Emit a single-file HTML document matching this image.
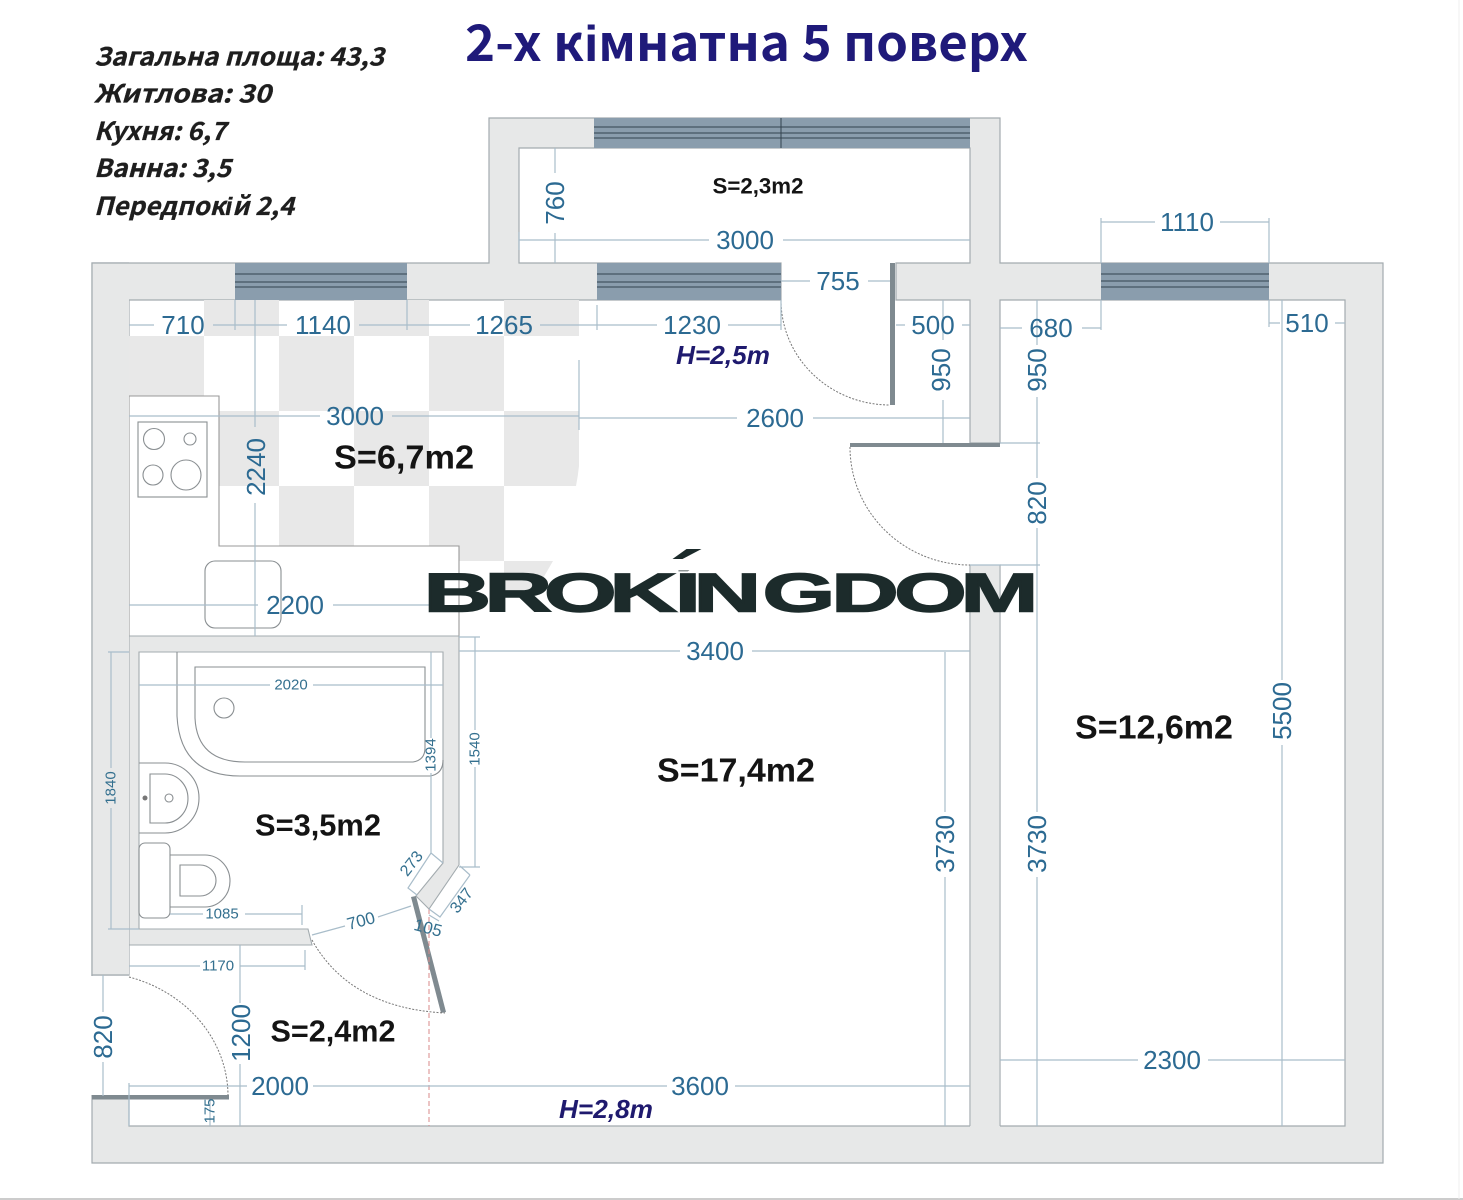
<!DOCTYPE html>
<html><head><meta charset="utf-8"><style>
html,body{margin:0;padding:0;background:#fff;width:1463px;height:1200px;overflow:hidden}
svg{display:block}
text{font-family:"Liberation Sans",sans-serif;dominant-baseline:central}
.d{fill:#2c6a92;font-size:26px;text-anchor:middle}
.s{fill:#34708f;font-size:15px;text-anchor:middle}
.a{fill:#141414;font-weight:bold;font-size:33px;text-anchor:middle}
.i{fill:#1e1e1e;stroke:#1e1e1e;stroke-width:.3;font-family:"Noto Sans CJK SC","Liberation Sans",sans-serif;font-weight:bold;font-style:italic;font-size:25px;dominant-baseline:auto}
.h{fill:#1f1a6e;font-weight:bold;font-style:italic;font-size:26px;text-anchor:middle}
.dim path{fill:none;stroke:#a9bdca;stroke-width:1.2}
.fx{fill:none;stroke:#8a8f92;stroke-width:1.1}
.arc{fill:none;stroke:#777;stroke-width:1;stroke-dasharray:2 1.5}
.win line{stroke:#33424e;stroke-width:1}
</style></head><body>
<svg width="1463" height="1200" viewBox="0 0 1463 1200" xmlns="http://www.w3.org/2000/svg">
<rect width="1463" height="1200" fill="#fff"/>
<path d="M0 1199H1463" stroke="#bbb" stroke-width="1.5"/>
<path d="M1459 0V1199" stroke="#efefef" stroke-width="1"/>
<path d="M92 263H489V118H1000V263H1383V1163H92Z" fill="#e7e8e8" stroke="#a3abaf" stroke-width="1.2"/>
<!-- floors -->
<path d="M129 300H781V263H519V148H970V263H896V300H970V443H1000V300H1345V1126H1000V565H970V1126H129V1096H92V975H129Z" fill="#fff" stroke="#a3abaf" stroke-width="1.2"/>
<path d="M970 443H1000V565H970Z" fill="#fff"/>
<rect x="90" y="976" width="4" height="119" fill="#fff"/>
<!-- tiles -->
<g fill="#e8e8e8">
<rect x="204" y="300" width="75" height="36"/><rect x="354" y="300" width="75" height="36"/><rect x="504" y="300" width="75" height="36"/>
<rect x="129" y="336" width="75" height="75"/><rect x="279" y="336" width="75" height="75"/><rect x="429" y="336" width="75" height="75"/>
<rect x="204" y="411" width="75" height="75"/><rect x="354" y="411" width="75" height="75"/>
<path d="M504 411H579V466Q578 476 576 486H504Z"/>
<rect x="279" y="486" width="75" height="75"/><rect x="429" y="486" width="75" height="75"/>
<path d="M504 561H553Q545 575 536 590H504Z"/>
</g>
<!-- counter -->
<path d="M129 396H219V546H459V636H129Z" fill="#fff" stroke="#999" stroke-width="1.1"/>
<rect x="138" y="422" width="69" height="75" class="fx"/>
<circle cx="154" cy="439" r="10.5" class="fx"/><circle cx="190" cy="439" r="6" class="fx"/><circle cx="153" cy="475" r="10" class="fx"/><circle cx="186" cy="475" r="15" class="fx"/>
<rect x="205" y="561" width="76" height="67" rx="10" class="fx"/>
<!-- inner walls -->
<path d="M129 636H459V865L429 909L416 896L443 863V652H139V929H308L312 945H129Z" fill="#e7e8e8" stroke="#a3abaf" stroke-width="1.1"/>
<path d="M92 263H129V975H92Z" fill="#e7e8e8"/>
<path d="M129 263H92V975H129" fill="none" stroke="#a3abaf" stroke-width="1.2"/>
<path d="M970 565H1000V1128H970Z" fill="#e7e8e8"/>
<path d="M970 1126V565H1000V1126" fill="none" stroke="#a3abaf" stroke-width="1"/>
<!-- windows -->
<g class="win">
<rect x="235" y="263" width="172" height="37" fill="#8a9dad"/><line x1="235" x2="407" y1="274" y2="274"/><line x1="235" x2="407" y1="282" y2="282"/><line x1="235" x2="407" y1="287" y2="287"/>
<rect x="597" y="263" width="184" height="37" fill="#8a9dad"/><line x1="597" x2="781" y1="274" y2="274"/><line x1="597" x2="781" y1="282" y2="282"/><line x1="597" x2="781" y1="287" y2="287"/>
<rect x="1101" y="263" width="168" height="37" fill="#8a9dad"/><line x1="1101" x2="1269" y1="274" y2="274"/><line x1="1101" x2="1269" y1="281" y2="281"/><line x1="1101" x2="1269" y1="287" y2="287"/>
<rect x="594" y="118" width="376" height="30" fill="#8a9dad"/><line x1="594" x2="970" y1="127" y2="127"/><line x1="594" x2="970" y1="133" y2="133"/><line x1="594" x2="970" y1="138" y2="138"/><line x1="781" x2="781" y1="118" y2="148"/>
</g>
<!-- door leaves -->
<g fill="#7f8a90">
<rect x="890" y="263" width="5" height="142"/>
<rect x="850" y="443" width="150" height="4"/>
<rect x="92" y="1095" width="137" height="4.500"/>
<path d="M411 897L416 896L446 1012L441 1013Z"/>
</g>
<g class="arc">
<path d="M781 300A109 105 0 0 0 890 405"/>
<path d="M850 447A120 118 0 0 0 970 565"/>
<path d="M129 977A137 124 0 0 1 228 1095"/>
<path d="M312 940Q350 1008 445 1013"/>
</g>
<path d="M429 909V1126" stroke="#d98a8a" stroke-width="1" stroke-dasharray="5 3" fill="none"/>
<!-- bath fixtures -->
<g class="fx">
<path d="M177 652V716Q180 776 240 776H430Q443 774 443 760"/>
<path d="M195 667V718Q197 762 245 762H413Q425 760 425 748V667Z"/>
<circle cx="224" cy="708" r="10"/>
<path d="M139 763H165A34 35 0 0 1 165 833H139"/>
<path d="M150 774H165A23 24.500 0 0 1 165 823H150Z"/>
<circle cx="169" cy="798" r="4"/>
<rect x="139" y="843" width="31" height="75" rx="6"/>
<path d="M170 855H205A25 26 0 0 1 205 907H170"/>
<path d="M180 865H200A16 15.500 0 0 1 200 896H180Z"/>
</g>
<circle cx="145" cy="798" r="2.500" fill="#777"/>
<!-- dimension lines -->
<g class="dim"><path d="
M129 325H154M213 325H287M359 325H470M540 325H657M728 325H781
M235 300V330M407 300V330M597 305V330M781 300V330
M555 148V173M555 233V263
M519 240H709M783 240H970M519 232V250
M781 281H810M868 281H890
M896 325H905M962 325H970
M943 300V340M943 400V443
M579 418H737M813 418H970M579 360V430
M129 416H320M392 416H579
M255 300V427M255 503V636
M129 605H258M333 605H430
M1037 443V478M1037 528V565
M1037 300V345M1037 397V443M1000 443H1040M970 565H1040
M1000 328H1022M1082 328H1101M1101 300V330
M1269 323H1280M1335 323H1345M1269 300V327
M1101 218V263M1269 218V263M1101 222H1155M1220 222H1269
M1282 300V680M1282 745V1126
M1000 1060H1138M1208 1060H1345
M945 652V812M945 877V1126
M1037 565V812M1037 877V1126
M459 651H680M752 651H970
M475 637V730M475 767V867M459 637H480M459 867H480
M431 652V738M431 773V853
M139 685H270M313 685H443
M111 652V768M111 808V929M108 652H129M108 929H139
M170 914H203M245 914H302M302 905V925
M129 966H200M240 966H305M305 950V970
M240 945V1003M240 1064V1126
M103 975V1012M103 1062V1096
M129 1086H247M313 1086H667M735 1086H970M129 1083V1126
M210 1100V1126
M312 935L345 926M378 917L411 906
M431 853L443 863M431 853L408 888L417 895
M470 875L440 917L429 909M470 875L460 866
M429 915L439 921
"/></g>
<!-- dimension labels -->
<text class="d" x="183" y="325">710</text>
<text class="d" x="323" y="325">1140</text>
<text class="d" x="504" y="325">1265</text>
<text class="d" x="692" y="325">1230</text>
<text class="d" x="933" y="325">500</text>
<text class="d" x="838" y="281">755</text>
<text class="d" x="745" y="240">3000</text>
<text class="d" x="355" y="416">3000</text>
<text class="d" x="775" y="418">2600</text>
<text class="d" x="295" y="605">2200</text>
<text class="d" x="1051" y="328">680</text>
<text class="d" x="1307" y="323">510</text>
<text class="d" x="1187" y="222">1110</text>
<text class="d" x="1172" y="1060">2300</text>
<text class="d" x="715" y="651">3400</text>
<text class="d" x="280" y="1086">2000</text>
<text class="d" x="700" y="1086">3600</text>
<text class="d" transform="rotate(-90 555 203)" x="555" y="203">760</text>
<text class="d" transform="rotate(-90 941 370)" x="941" y="370">950</text>
<text class="d" transform="rotate(-90 1037 370)" x="1037" y="370">950</text>
<text class="d" transform="rotate(-90 1037 503)" x="1037" y="503">820</text>
<text class="d" transform="rotate(-90 256 467)" x="256" y="467">2240</text>
<text class="d" transform="rotate(-90 1282 711)" x="1282" y="711">5500</text>
<text class="d" transform="rotate(-90 945 844)" x="945" y="844">3730</text>
<text class="d" transform="rotate(-90 1037 844)" x="1037" y="844">3730</text>
<text class="d" transform="rotate(-90 241 1033)" x="241" y="1033">1200</text>
<text class="d" transform="rotate(-90 103 1037)" x="103" y="1037">820</text>
<text class="s" x="291" y="685">2020</text>
<text class="s" x="222" y="914">1085</text>
<text class="s" x="218" y="966">1170</text>
<text class="s" transform="rotate(-90 475 749)" x="475" y="749">1540</text>
<text class="s" transform="rotate(-90 431 755)" x="431" y="755">1394</text>
<text class="s" transform="rotate(-90 111 788)" x="111" y="788">1840</text>
<text class="s" transform="rotate(-90 210 1111)" x="210" y="1111">175</text>
<text class="s" transform="rotate(-15 361 921)" x="361" y="921" style="font-size:17px">700</text>
<text class="s" transform="rotate(-52 412 864)" x="412" y="864" style="font-size:16px">273</text>
<text class="s" transform="rotate(-52 462 901)" x="462" y="901" style="font-size:16px">347</text>
<text class="s" transform="rotate(15 428 928)" x="428" y="928" style="font-size:17px">105</text>
<!-- area labels -->
<text class="a" x="404" y="457" textLength="140" lengthAdjust="spacingAndGlyphs">S=6,7m2</text>
<text class="a" x="736" y="770" textLength="158" lengthAdjust="spacingAndGlyphs">S=17,4m2</text>
<text class="a" x="1154" y="727" textLength="158" lengthAdjust="spacingAndGlyphs">S=12,6m2</text>
<text class="a" x="318" y="825" textLength="126" lengthAdjust="spacingAndGlyphs" style="font-size:31px">S=3,5m2</text>
<text class="a" x="333" y="1031" textLength="125" lengthAdjust="spacingAndGlyphs" style="font-size:31px">S=2,4m2</text>
<text class="a" x="758" y="186" textLength="91" lengthAdjust="spacingAndGlyphs" style="font-size:22px">S=2,3m2</text>
<text class="h" x="723" y="355" textLength="94" lengthAdjust="spacingAndGlyphs">H=2,5m</text>
<text class="h" x="606" y="1109" textLength="94" lengthAdjust="spacingAndGlyphs">H=2,8m</text>
<!-- info -->
<text class="i" x="94" y="65.500" textLength="290" lengthAdjust="spacingAndGlyphs">Загальна площа: 43,3</text>
<text class="i" x="94" y="102.500" textLength="177" lengthAdjust="spacingAndGlyphs">Житлова: 30</text>
<text class="i" x="94" y="140" textLength="132" lengthAdjust="spacingAndGlyphs">Кухня: 6,7</text>
<text class="i" x="94" y="177" textLength="137" lengthAdjust="spacingAndGlyphs">Ванна: 3,5</text>
<text class="i" x="94" y="215" textLength="200" lengthAdjust="spacingAndGlyphs">Передпокій 2,4</text>
<text x="465" y="61" textLength="563" lengthAdjust="spacingAndGlyphs" style="fill:#1f1a7a;font-family:'Noto Sans CJK SC','Liberation Sans',sans-serif;font-weight:bold;font-size:50px;dominant-baseline:auto">2-х кімнатна 5 поверх</text>
<!-- logo -->
<g transform="scale(1.7 1)">
<text x="249.200 285 320 358.500 397 408 448.500 489 526 565" y="611.500" style="fill:#1c2b2b;font-weight:bold;font-size:55px;stroke:#1c2b2b;stroke-width:1.4;dominant-baseline:auto">BROKÍNGDOM</text>
</g>
<rect x="664" y="559.500" width="46" height="11" fill="#fff"/>
<path d="M672.500 559L686.500 549H701.500L682.500 559Z" fill="#1c2b2b"/>
</svg>
</body></html>
